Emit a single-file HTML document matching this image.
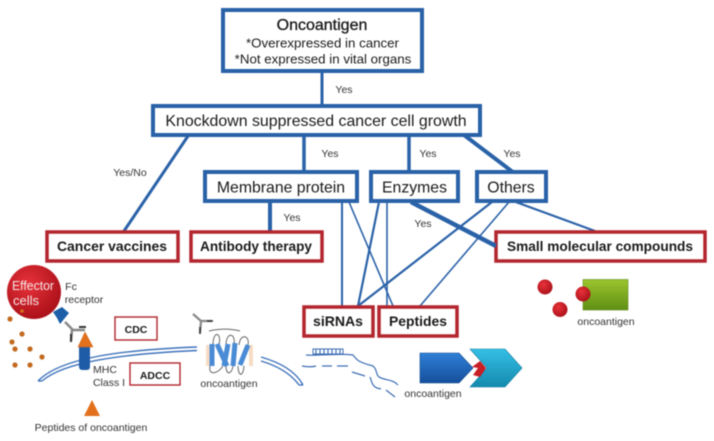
<!DOCTYPE html>
<html><head><meta charset="utf-8"><style>
html,body{margin:0;padding:0;background:#fff;width:714px;height:441px;overflow:hidden}
svg{display:block;filter:blur(0.45px)}
text{font-family:"Liberation Sans",sans-serif;fill:#1a1a1a;text-anchor:middle}
.b{fill:#fff;stroke:#2a62a8;stroke-width:4}
.r{fill:#fff;stroke:#b3262e;stroke-width:3.5}
.l{stroke:#2a62a8;fill:none}
.s{font-size:10.5px;fill:#333}
</style></head><body>
<svg width="714" height="441" viewBox="0 0 714 441" xmlns="http://www.w3.org/2000/svg">
<defs>
<radialGradient id="red" cx="40%" cy="35%" r="70%"><stop offset="0" stop-color="#e8323a"/><stop offset="1" stop-color="#a80f18"/></radialGradient>
<linearGradient id="grn" x1="0" y1="0" x2="0" y2="1"><stop offset="0" stop-color="#9cc52e"/><stop offset="1" stop-color="#5f8f14"/></linearGradient>
<linearGradient id="blu" x1="0" y1="0" x2="0" y2="1"><stop offset="0" stop-color="#2f7fd6"/><stop offset="1" stop-color="#154f9c"/></linearGradient>
<linearGradient id="cya" x1="0" y1="0" x2="0" y2="1"><stop offset="0" stop-color="#35bfe6"/><stop offset="1" stop-color="#148aae"/></linearGradient>
</defs>

<!-- connectors -->
<g class="l">
<path d="M322 72V105" stroke-width="3"/>
<path d="M188 136L124 231" stroke-width="3"/>
<path d="M304 136V171" stroke-width="3.5"/>
<path d="M409 136V171" stroke-width="3.5"/>
<path d="M464 135L530 185" stroke-width="4"/>
<path d="M270 202V231" stroke-width="4"/>
<path d="M513 201L595 231" stroke-width="2.2"/>
<path d="M342 202V306" stroke-width="2"/>
<path d="M349 202L393 306" stroke-width="1.6"/>
<path d="M379 202L358 306" stroke-width="2.2"/>
<path d="M387 202V306" stroke-width="1.6"/>
<path d="M492 202L358 306" stroke-width="2.2"/>
<path d="M509 202L420 306" stroke-width="1.6"/>
</g>

<!-- boxes -->
<rect class="b" x="223" y="10" width="199" height="61"/>
<rect class="b" x="153" y="106" width="327" height="29"/>
<rect class="b" x="205" y="172" width="152" height="29"/>
<rect class="b" x="371" y="172" width="87" height="29"/>
<rect class="b" x="477" y="172" width="69" height="29"/>
<rect class="r" x="47" y="232" width="131" height="29"/>
<rect class="r" x="191" y="232" width="131" height="29"/>
<rect class="r" x="496" y="232" width="209" height="29"/>
<rect class="r" x="304" y="307" width="69" height="29"/>
<rect class="r" x="379" y="307" width="78" height="29"/>
<path d="M411 202L496 246" class="l" stroke-width="4.5"/>

<!-- box labels -->
<text x="322" y="30" font-size="16" style="stroke:#111;stroke-width:.3">Oncoantigen</text>
<text x="322.500" y="47.500" font-size="13.300">*Overexpressed in cancer</text>
<text x="323" y="63.500" font-size="13.300">*Not expressed in vital organs</text>
<text x="316" y="126" font-size="15.900">Knockdown suppressed cancer cell growth</text>
<text x="281" y="192.500" font-size="15.800">Membrane protein</text>
<text x="414.500" y="192.500" font-size="15.800">Enzymes</text>
<text x="511" y="192.500" font-size="15.800">Others</text>
<text x="112" y="251" font-size="13.500" font-weight="bold" textLength="110" lengthAdjust="spacingAndGlyphs">Cancer vaccines</text>
<text x="256" y="251" font-size="13.500" font-weight="bold" textLength="112" lengthAdjust="spacingAndGlyphs">Antibody therapy</text>
<text x="600" y="251" font-size="13.500" font-weight="bold" textLength="186" lengthAdjust="spacingAndGlyphs">Small molecular compounds</text>
<text x="338" y="326" font-size="14" font-weight="bold" textLength="50" lengthAdjust="spacingAndGlyphs">siRNAs</text>
<text x="418" y="326" font-size="14" font-weight="bold" textLength="58" lengthAdjust="spacingAndGlyphs">Peptides</text>

<!-- Yes labels -->
<text class="s" x="344" y="93">Yes</text>
<text class="s" x="330" y="157">Yes</text>
<text class="s" x="428" y="157">Yes</text>
<text class="s" x="512" y="157">Yes</text>
<text class="s" x="292" y="221">Yes</text>
<text class="s" x="423" y="227">Yes</text>
<text class="s" x="130" y="176">Yes/No</text>

<!-- small molecule -->
<rect x="583" y="279.500" width="45" height="30.500" fill="url(#grn)" stroke="#5f8a1a" stroke-width=".6"/>
<circle cx="545" cy="287" r="7.500" fill="url(#red)"/>
<circle cx="583" cy="294" r="7.500" fill="url(#red)"/>
<circle cx="560" cy="309.500" r="7.500" fill="url(#red)"/>
<text class="s" x="606" y="325">oncoantigen</text>

<!-- enzyme shapes -->
<path d="M420 353H459L473 368L459 383H420Z" fill="url(#blu)" stroke="#124a90" stroke-width=".6"/>
<path d="M470 349H505L522 368L505 387H470L487 368Z" fill="url(#cya)" stroke="#117d9e" stroke-width=".6"/>
<path d="M472 367L480 361L486 368L480 377L473 375L478 368Z" fill="#c81e26"/>
<text class="s" x="433" y="397">oncoantigen</text>

<!-- siRNA -->
<g fill="none" stroke="#3f6fb5" stroke-width="1.2">
<rect x="313" y="349" width="30" height="5" stroke-width="1"/>
<path d="M316 349v5M320 349v5M324 349v5M328 349v5M332 349v5M336 349v5M340 349v5"/>
<path d="M306 355C318 356 340 353 353 355C357 360 358 362 373 366C378 370 375 376 381 378C390 381 393 380 398 385"/>
<path d="M302 366C308 367 313 367 316 366M322 366H332M337 366H348"/>
<path d="M352 372L365 376M370 377C372 382 372 386 377 388L381 389M386 390L395 397"/>
</g>

<!-- membrane -->
<g fill="none" stroke="#3f73bb" stroke-width="1.4">
<path d="M38 381C60 358 120 350 197 347"/>
<path d="M42 381C64 362 120 354 197 350.500"/>
<path d="M38 381H42"/>
<path d="M261 357C282 363 296 372 303 385"/>
<path d="M261 361C278 366 291 374 299 385"/>
<path d="M299 385H303"/>
</g>

<!-- effector cell -->
<path d="M53 312L62 307L69 313L60 324L57 318Z" fill="#1c5fa8"/>
<path d="M65 322L73 330H85M72 330L71 341" fill="none" stroke="#888" stroke-width="2.500"/>
<path d="M71 334v8M79 327h7" stroke="#333" stroke-width="2" fill="none"/>
<circle cx="34" cy="292" r="27" fill="url(#red)"/>
<text x="33" y="290" font-size="13" style="fill:#f5e6e6" textLength="42" lengthAdjust="spacingAndGlyphs">Effector</text>
<text x="26" y="305" font-size="13" style="fill:#f5e6e6">cells</text>
<circle cx="22" cy="311" r="1.800" fill="#d9701c"/>
<text class="s" x="71" y="290">Fc</text>
<text class="s" x="84" y="303">receptor</text>
<g fill="#c2691f">
<circle cx="10" cy="319" r="2.600"/><circle cx="22" cy="334" r="2.600"/><circle cx="12" cy="342" r="2.600"/>
<circle cx="15" cy="349" r="2.600"/><circle cx="30" cy="349" r="2.600"/><circle cx="42" cy="357" r="2.600"/>
<circle cx="15" cy="365" r="2.600"/><circle cx="30" cy="365" r="2.600"/>
</g>

<!-- MHC -->
<rect x="79" y="345" width="11" height="25" rx="3" fill="#1f5ca8"/>
<path d="M78 347L85 332L93 347Z" fill="#e2701c" stroke="#c85f14" stroke-width=".5"/>
<text class="s" x="105" y="373">MHC</text>
<text class="s" x="109" y="386">Class I</text>
<path d="M84 416L92 400L100 416Z" fill="#e2701c"/>
<text class="s" x="91" y="431">Peptides of oncoantigen</text>

<!-- CDC / ADCC -->
<rect x="115" y="317" width="42" height="23" fill="#fff" stroke="#b3262e" stroke-width="1.400"/>
<text x="136" y="333" font-size="10.500" font-weight="bold">CDC</text>
<rect x="130" y="363" width="50" height="22" fill="#fff" stroke="#b3262e" stroke-width="1.400"/>
<text x="155" y="379" font-size="10.500" font-weight="bold">ADCC</text>

<!-- antibody free -->
<path d="M193 314L201 321H212M201 321L200 333" fill="none" stroke="#888" stroke-width="2.200"/>
<path d="M200 327v7M207 321h6" stroke="#333" stroke-width="1.600" fill="none"/>

<!-- receptor oncoantigen -->
<path d="M206 345H210V366H206ZM249 345H253V366H249Z" fill="#f6dcc4"/>
<g fill="none" stroke="#666" stroke-width="1">
<path d="M209 331C222 328 232 329 240 331"/>
<path d="M213 345C213 330 222 332 219 345M226 345C226 332 236 332 234 345M239 345C240 333 250 335 248 345"/>
<path d="M210 366C208 376 218 374 223 366M226 366C226 376 232 374 233 366M244 366C243 378 238 376 238 366"/>
</g>
<g fill="none" stroke="#4a8bd6" stroke-width="5">
<path d="M212 344V366"/>
<path d="M217 344L227 366"/>
<path d="M228 344L224 366"/>
<path d="M235 343L233 366"/>
<path d="M248 345L240 365"/>
</g>
<text class="s" x="229" y="387">oncoantigen</text>
</svg>
</body></html>
